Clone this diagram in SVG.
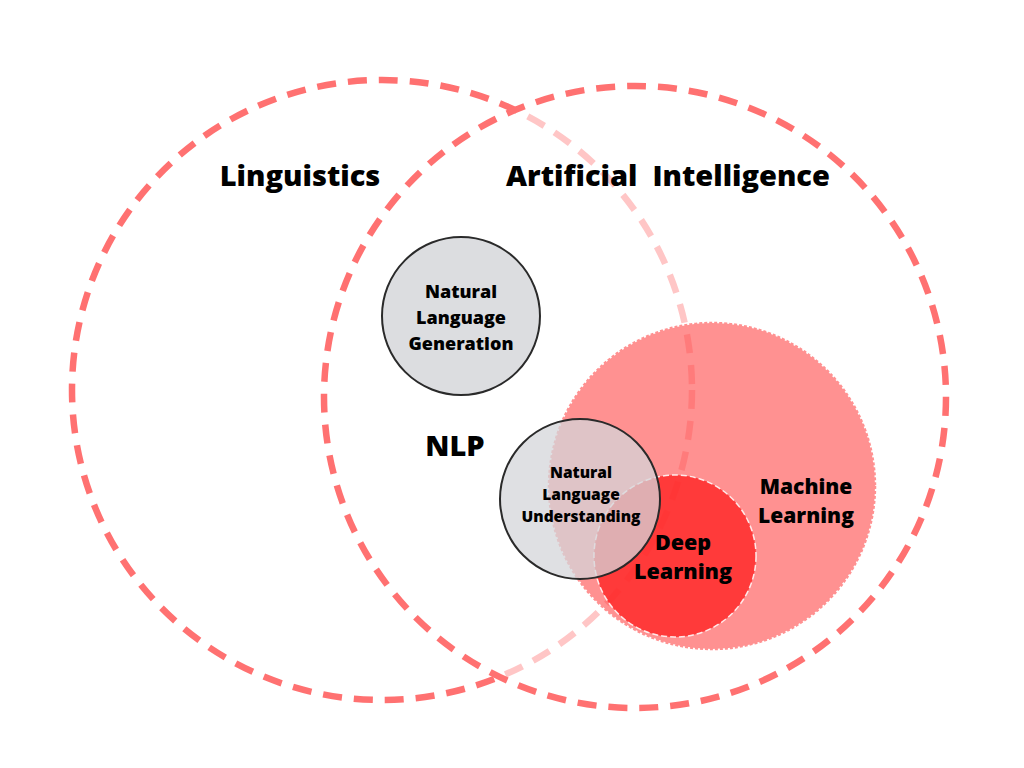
<svg xmlns="http://www.w3.org/2000/svg" width="1024" height="768" viewBox="0 0 1024 768">
<style>
.big{stroke:#ff7171;stroke-width:6.5;stroke-dasharray:19 12;}
.lbl{font-family:"Open Sans","Noto Sans","DejaVu Sans",sans-serif;font-weight:800;fill:#000;text-anchor:middle;}
</style>
<rect width="1024" height="768" fill="#ffffff"/>
<g id="linguistics">
<circle cx="382" cy="390" r="310" fill="none" class="big"/>
</g>
<g id="ai">
<circle cx="635" cy="397" r="311" fill="#ffffff" fill-opacity="0.6" class="big"/>
</g>
<g id="machine-learning">
<circle cx="712" cy="486" r="163" fill="#ff4d4d" fill-opacity="0.62" stroke="#ff9191" stroke-width="2.5" stroke-dasharray="3 2"/>
<text class="lbl" x="806" y="494" font-size="21">Machine</text>
<text class="lbl" x="806" y="523" font-size="21">Learning</text>
</g>
<g id="deep-learning">
<circle cx="675" cy="556" r="81" fill="#ff2a2a" fill-opacity="0.85" stroke="#ffffff" stroke-opacity="0.85" stroke-width="1.5" stroke-dasharray="6 3"/>
</g>
<g id="nlg">
<circle cx="461" cy="316" r="79" fill="#dcdde0" stroke="#2a2a2a" stroke-width="2"/>
<text class="lbl" x="461" y="298" font-size="18">Natural</text>
<text class="lbl" x="461" y="324" font-size="18">Language</text>
<text class="lbl" x="461" y="350" font-size="18">Generation</text>
</g>
<g id="nlu">
<circle cx="580" cy="499" r="80" fill="#d4d5d9" fill-opacity="0.75" stroke="#2a2a2a" stroke-width="2"/>
<text class="lbl" x="581" y="478" font-size="15.5">Natural</text>
<text class="lbl" x="581" y="500" font-size="15.5">Language</text>
<text class="lbl" x="581" y="522" font-size="15.5">Understanding</text>
</g>
<g id="dl-label">
<text class="lbl" x="683" y="550" font-size="21.5">Deep</text>
<text class="lbl" x="683" y="579" font-size="21.5">Learning</text>
</g>
<g id="labels">
<text class="lbl" x="300" y="186" font-size="29">Linguistics</text>
<text class="lbl" x="668" y="186" font-size="29" xml:space="preserve">Artificial  Intelligence</text>
<text class="lbl" x="455" y="456" font-size="29">NLP</text>
</g>
</svg>
